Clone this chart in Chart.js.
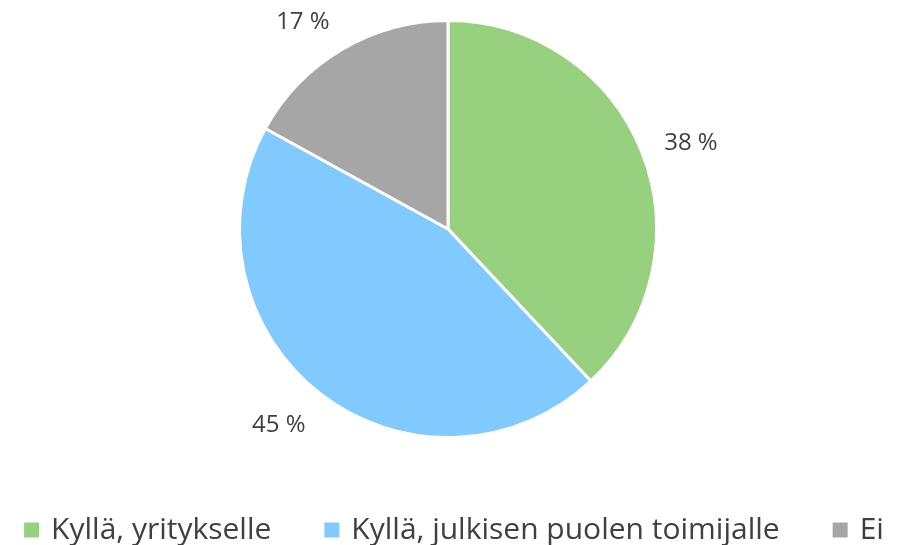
<!DOCTYPE html>
<html>
<head>
<meta charset="utf-8">
<script src="https://cdn.jsdelivr.net/npm/chart.js@4"></script>
<style>
    html, body { margin: 0; padding: 0; background: #ffffff; }
    #wrap { width: 902px; height: 545px; position: relative; }
</style>
</head>
<body>
<div id="wrap"><canvas id="pie"></canvas></div>
<script>
// Vastausten jakauma
const categories = ['Kyllä, yritykselle', 'Kyllä, julkisen puolen toimijalle', 'Ei'];
const shares = [38, 45, 17];
const sliceColors = ['#97d17f', '#80caff', '#a6a6a6'];

const textColor = '#404040';
const fontFamily = '"Open Sans", "Noto Sans", sans-serif';

// Percent labels just outside each slice, anchored at the slice mid-angle
const outsideLabels = {
    id: 'outsideLabels',
    afterDatasetsDraw(chart) {
        const ctx = chart.ctx;
        const meta = chart.getDatasetMeta(0);
        ctx.save();
        ctx.font = '24px ' + fontFamily;
        ctx.fillStyle = textColor;
        meta.data.forEach((arc, i) => {
            const mid = (arc.startAngle + arc.endAngle) / 2;
            const r = arc.outerRadius + 24;
            const cos = Math.cos(mid);
            const sin = Math.sin(mid);
            const x = arc.x + cos * r;
            const y = arc.y + sin * r;
            ctx.textAlign = cos > 0.2 ? 'left' : (cos < -0.2 ? 'right' : 'center');
            ctx.textBaseline = sin > 0.5 ? 'top' : (sin < -0.5 ? 'alphabetic' : 'middle');
            ctx.fillText(shares[i] + ' %', x, y);
        });
        ctx.restore();
    }
};

// Single-row legend under the pie (square marker + label per slice)
const bottomLegend = {
    id: 'bottomLegend',
    afterDraw(chart) {
        const ctx = chart.ctx;
        const box = 15, boxGap = 12, itemGap = 53;
        const y = 530;
        ctx.save();
        ctx.font = '30px ' + fontFamily;
        ctx.textBaseline = 'middle';
        ctx.textAlign = 'left';
        const widths = categories.map(c => ctx.measureText(c).width);
        const total = widths.reduce((s, w) => s + box + boxGap + w, 0) + itemGap * (categories.length - 1);
        let x = chart.width / 2 + 3 - total / 2;
        categories.forEach((c, i) => {
            ctx.fillStyle = sliceColors[i];
            ctx.fillRect(x, y - box / 2, box, box);
            ctx.fillStyle = textColor;
            ctx.fillText(c, x + box + boxGap, y);
            x += box + boxGap + widths[i] + itemGap;
        });
        ctx.restore();
    }
};

new Chart(document.getElementById('pie'), {
    type: 'pie',
    data: {
        labels: categories,
        datasets: [{
            data: shares,
            backgroundColor: sliceColors,
            borderColor: '#ffffff',
            borderWidth: 3
        }]
    },
    options: {
        responsive: true,
        maintainAspectRatio: false,
        animation: false,
        layout: { padding: { top: 19, left: 0, right: 6, bottom: 106 } },
        plugins: {
            tooltip: { enabled: false },
            legend: { display: false }
        }
    },
    plugins: [outsideLabels, bottomLegend]
});
</script>
</body>
</html>
